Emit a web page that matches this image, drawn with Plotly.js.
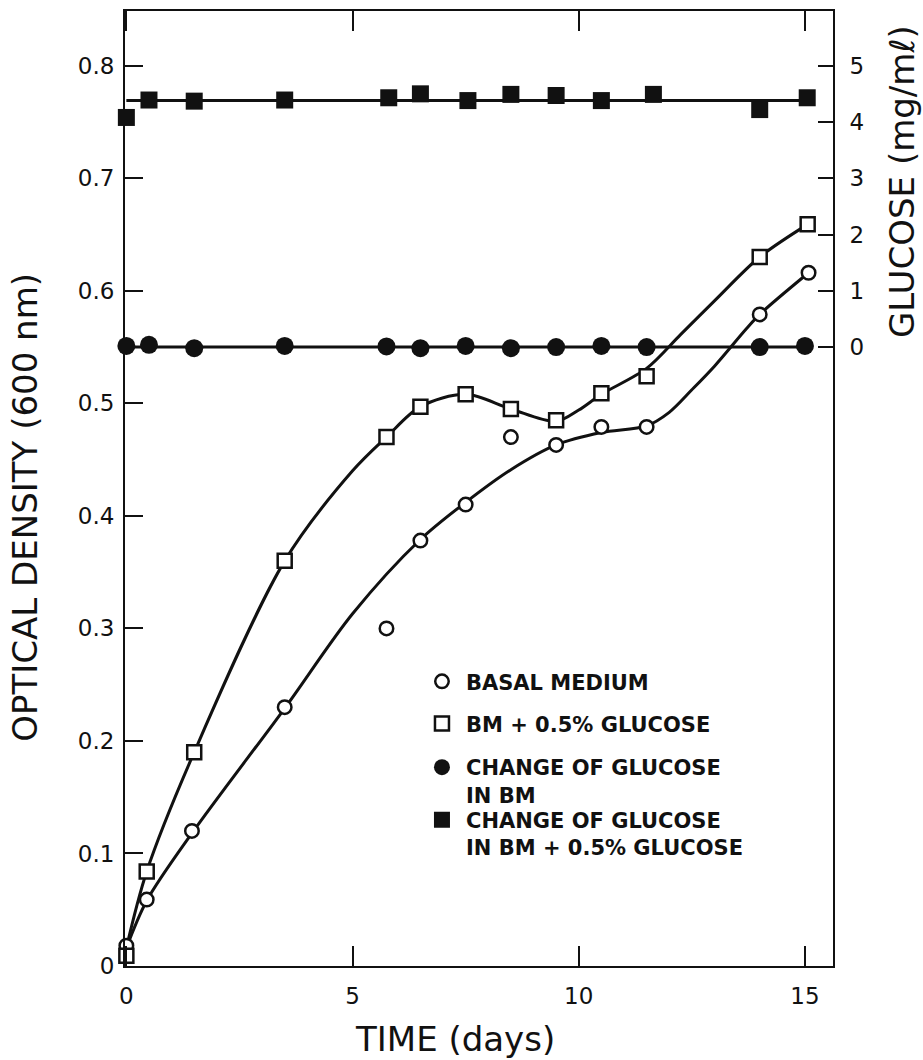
<!DOCTYPE html>
<html>
<head>
<meta charset="utf-8">
<script src="https://cdn.plot.ly/plotly-3.0.1.min.js"></script>
<style>
  html, body { margin: 0; padding: 0; background: #fff; }
  #chart { width: 923px; height: 1060px; }
</style>
</head>
<body>
<div id="chart"></div>
<script>
// Optical density of cultures (left axis) and glucose in the medium (right axis)

// Basal medium (open circles)
const basalDays = [0, 0.45, 1.45, 3.5, 5.75, 6.5, 7.5, 8.5, 9.5, 10.5, 11.5, 14, 15.08];
const basalOD   = [0.018, 0.059, 0.12, 0.23, 0.30, 0.378, 0.41, 0.47, 0.463, 0.479, 0.479, 0.579, 0.616];

// BM + 0.5% glucose (open squares)
const glucDays = [0, 0.45, 1.5, 3.5, 5.75, 6.5, 7.5, 8.5, 9.5, 10.5, 11.5, 14, 15.06];
const glucOD   = [0.009, 0.084, 0.19, 0.36, 0.47, 0.497, 0.508, 0.495, 0.485, 0.509, 0.524, 0.63, 0.659];

// Smooth curves drawn through the growth data
const basalFitDays = [0, 0.45, 1.45, 3.5, 5.0, 6.5, 7.5, 8.5, 9.5, 10.5, 11.5, 12.0, 12.5, 13.0, 13.7, 14, 15.08];
const basalFitOD   = [0.016, 0.058, 0.118, 0.229, 0.313, 0.379, 0.412, 0.441, 0.463, 0.474, 0.48, 0.492, 0.512, 0.533, 0.566, 0.579, 0.616];
const glucFitDays  = [0, 0.45, 1.5, 3.5, 5.0, 5.75, 6.5, 7.5, 8.5, 9.5, 10.0, 10.5, 11.5, 12.25, 13.0, 14, 15.06];
const glucFitOD    = [0.016, 0.084, 0.19, 0.36, 0.44, 0.47, 0.497, 0.508, 0.495, 0.484, 0.494, 0.508, 0.531, 0.561, 0.591, 0.63, 0.659];

// Change of glucose in BM (filled circles), mg/ml
const bmDays    = [0, 0.5, 1.5, 3.5, 5.75, 6.5, 7.5, 8.5, 9.5, 10.5, 11.5, 14, 15];
const bmGlucose = [0.02, 0.04, -0.02, 0.02, 0.01, -0.02, 0.02, -0.02, 0, 0.02, 0, 0, 0.02];
const bmLevel   = 0;

// Change of glucose in BM + 0.5% glucose (filled squares), mg/ml
const bmgDays    = [0, 0.5, 1.5, 3.5, 5.8, 6.5, 7.55, 8.5, 9.5, 10.5, 11.65, 14, 15.05];
const bmgGlucose = [4.08, 4.39, 4.37, 4.39, 4.43, 4.50, 4.38, 4.49, 4.47, 4.38, 4.49, 4.22, 4.43];
const bmgLevel   = 4.38;

// Axis ticks
const dayTicks = [0, 5, 10, 15];
const odTicks = [0, 0.1, 0.2, 0.3, 0.4, 0.5, 0.6, 0.7, 0.8];
const odTickText = ['0', '0.1', '0.2', '0.3', '0.4', '0.5', '0.6', '0.7', '0.8'];
const glucoseTicks = [0, 1, 2, 3, 4, 5];

// Legend labels
const names = {
  basal: 'BASAL MEDIUM',
  gluc: 'BM + 0.5% GLUCOSE',
  bm: 'CHANGE OF GLUCOSE<br>IN BM',
  bmg: 'CHANGE OF GLUCOSE<br>IN BM + 0.5% GLUCOSE'
};

// OD range; glucose axis is tied to it: 0 mg/ml at OD 0.55, 1 mg/ml per 0.05 OD
const odRange = [0, 0.8486];
const odToGlucose = od => (od - 0.55) * 20;
const glucoseRange = odRange.map(odToGlucose);

const INK = '#111';
const FONT = '"DejaVu Sans", "Liberation Sans", sans-serif';

const lineStyle = { color: INK, width: 3 };

const traces = [
  // curves and level lines first so markers sit on top
  { x: basalFitDays, y: basalFitOD, mode: 'lines', line: Object.assign({ shape: 'spline', smoothing: 0.9 }, lineStyle), showlegend: false, hoverinfo: 'skip' },
  { x: glucFitDays, y: glucFitOD, mode: 'lines', line: Object.assign({ shape: 'spline', smoothing: 0.9 }, lineStyle), showlegend: false, hoverinfo: 'skip' },
  { x: [bmDays[0], bmDays[bmDays.length - 1]], y: [bmLevel, bmLevel], yaxis: 'y2', mode: 'lines', line: lineStyle, showlegend: false, hoverinfo: 'skip' },
  { x: [bmgDays[0], bmgDays[bmgDays.length - 1]], y: [bmgLevel, bmgLevel], yaxis: 'y2', mode: 'lines', line: lineStyle, showlegend: false, hoverinfo: 'skip' },

  { x: basalDays, y: basalOD, name: names.basal, mode: 'markers', legend: 'legend', cliponaxis: false,
    marker: { symbol: 'circle', size: 13.5, color: '#fff', line: { color: INK, width: 2.5 } } },
  { x: glucDays, y: glucOD, name: names.gluc, mode: 'markers', legend: 'legend2', cliponaxis: false,
    marker: { symbol: 'square', size: 14, color: '#fff', line: { color: INK, width: 2.5 } } },
  { x: bmDays, y: bmGlucose, yaxis: 'y2', name: names.bm, mode: 'markers', legend: 'legend3', cliponaxis: false,
    marker: { symbol: 'circle', size: 18, color: INK, line: { width: 0 } } },
  { x: bmgDays, y: bmgGlucose, yaxis: 'y2', name: names.bmg, mode: 'markers', legend: 'legend4', cliponaxis: false,
    marker: { symbol: 'square', size: 17, color: INK, line: { width: 0 } } }
];

const legendBase = {
  xanchor: 'left', yanchor: 'middle', x: 0.4138,
  bgcolor: 'rgba(0,0,0,0)', borderwidth: 0, itemwidth: 38, valign: 'top',
  font: { family: FONT, size: 21, color: INK, weight: 700 }
};

const tickFont = { family: FONT, size: 23, color: INK };
const titleFont = { family: FONT, size: 34, color: INK };

const layout = {
  width: 923, height: 1060,
  margin: { l: 125, r: 90, t: 11, b: 93.5 },
  paper_bgcolor: '#fff', plot_bgcolor: '#fff',
  showlegend: true,
  xaxis: {
    range: [-0.03, 15.62], tickvals: dayTicks, ticks: 'inside', ticklen: 20, tickwidth: 2, tickcolor: INK,
    showline: true, linewidth: 2, linecolor: INK, mirror: 'ticks', showgrid: false, zeroline: false,
    tickfont: tickFont, ticklabelstandoff: 8
  },
  yaxis: {
    range: odRange, tickvals: odTicks, ticktext: odTickText, ticks: 'inside', ticklen: 18, tickwidth: 2, tickcolor: INK,
    showline: true, linewidth: 2, linecolor: INK, showgrid: false, zeroline: false,
    tickfont: tickFont, ticklabelstandoff: 4
  },
  yaxis2: {
    overlaying: 'y', side: 'right', range: glucoseRange, tickvals: glucoseTicks,
    ticks: 'inside', ticklen: 15, tickwidth: 2, tickcolor: INK,
    showline: true, linewidth: 2, linecolor: INK, showgrid: false, zeroline: false,
    tickfont: tickFont, ticklabelstandoff: 10
  },
  legend:  Object.assign({}, legendBase, { y: 0.2977 }),
  legend2: Object.assign({}, legendBase, { y: 0.2535 }),
  legend3: Object.assign({}, legendBase, { y: 0.1937 }),
  legend4: Object.assign({}, legendBase, { y: 0.1387 }),
  annotations: [
    { text: 'OPTICAL DENSITY (600 nm)', xref: 'paper', yref: 'paper', x: -0.1412, y: 0.4799,
      textangle: -90, showarrow: false, xanchor: 'center', yanchor: 'middle', font: titleFont },
    { text: 'GLUCOSE (mg/mℓ)', xref: 'paper', yref: 'paper', x: 1.0975, y: 0.821,
      textangle: -90, showarrow: false, xanchor: 'center', yanchor: 'middle', font: titleFont },
    { text: 'TIME (days)', xref: 'paper', yref: 'paper', x: 0.466, y: -0.0769,
      showarrow: false, xanchor: 'center', yanchor: 'middle', font: titleFont }
  ]
};

Plotly.newPlot('chart', traces, layout, { displayModeBar: false, staticPlot: true });
</script>
</body>
</html>
